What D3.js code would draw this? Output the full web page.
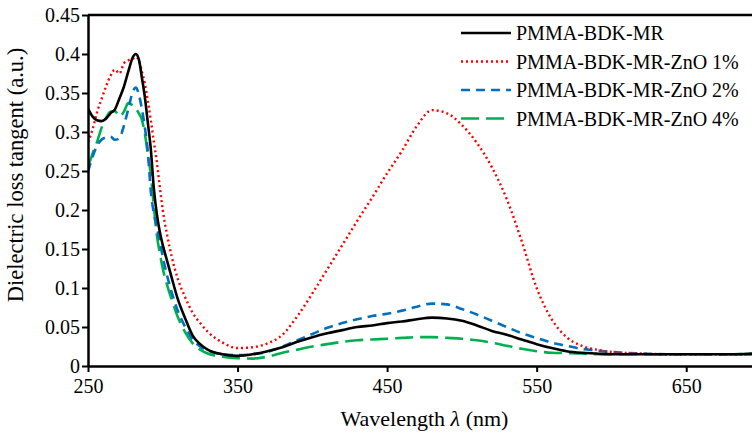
<!DOCTYPE html>
<html>
<head>
<meta charset="utf-8">
<script src="https://cdn.jsdelivr.net/npm/d3@7"></script>
<style>
  body { margin: 0; background: #fff; }
  text { font-family: "Liberation Serif", "Times New Roman", serif; fill: #000; }
</style>
</head>
<body>
<script>
// wavelength grid (nm)
var wavelength = [250,253,256,259,262,265,268,271,274,277,280,282,284,286,288,290,292,294,296,298,
                  300,303,306,310,315,320,325,330,340,350,360,370,380,390,400,410,420,430,440,450,
                  460,470,480,490,500,510,520,530,540,550,560,570,580,590,600,620,640,660,680,700];

var mr = [0.330,0.320,0.315,0.314,0.317,0.324,0.329,0.343,0.358,0.378,0.396,0.400,0.393,0.370,0.345,0.312,0.278,0.228,0.195,0.172,
          0.155,0.134,0.113,0.086,0.061,0.039,0.028,0.021,0.015,0.013,0.015,0.019,0.024,0.031,0.037,0.042,0.046,0.050,0.052,0.055,
          0.057,0.060,0.062,0.061,0.058,0.052,0.045,0.040,0.034,0.028,0.023,0.019,0.017,0.016,0.015,0.015,0.015,0.015,0.015,0.016];

var zno1 = [0.287,0.303,0.325,0.342,0.358,0.372,0.380,0.375,0.388,0.392,0.394,0.396,0.392,0.378,0.362,0.340,0.315,0.288,0.262,0.230,
            0.200,0.167,0.140,0.112,0.088,0.068,0.055,0.044,0.030,0.023,0.024,0.029,0.040,0.064,0.093,0.124,0.155,0.186,0.216,0.247,
            0.276,0.308,0.328,0.324,0.309,0.286,0.255,0.214,0.160,0.100,0.060,0.037,0.026,0.021,0.018,0.016,0.015,0.015,0.015,0.016];

var zno2 = [0.249,0.268,0.282,0.290,0.293,0.294,0.290,0.292,0.308,0.330,0.352,0.357,0.348,0.330,0.306,0.275,0.224,0.196,0.178,0.160,
            0.140,0.115,0.094,0.071,0.050,0.034,0.025,0.020,0.015,0.014,0.015,0.018,0.025,0.033,0.041,0.049,0.055,0.060,0.064,0.067,
            0.071,0.076,0.080,0.079,0.073,0.066,0.058,0.050,0.042,0.036,0.030,0.026,0.022,0.020,0.018,0.016,0.015,0.015,0.015,0.016];

var zno4 = [0.255,0.272,0.287,0.305,0.318,0.326,0.327,0.320,0.326,0.337,0.334,0.330,0.324,0.316,0.298,0.272,0.245,0.205,0.168,0.145,
            0.125,0.103,0.085,0.063,0.043,0.029,0.021,0.016,0.012,0.010,0.0095,0.012,0.017,0.021,0.025,0.028,0.031,0.033,0.034,0.035,
            0.036,0.037,0.037,0.036,0.035,0.033,0.030,0.026,0.022,0.019,0.017,0.0165,0.016,0.015,0.015,0.015,0.015,0.015,0.015,0.016];

var seriesNames = ["PMMA-BDK-MR", "PMMA-BDK-MR-ZnO 1%", "PMMA-BDK-MR-ZnO 2%", "PMMA-BDK-MR-ZnO 4%"];
var xTicks = [250, 350, 450, 550, 650];
var yTicks = [0, 0.05, 0.1, 0.15, 0.2, 0.25, 0.3, 0.35, 0.4, 0.45];

var w = 752;
var h = 436;
var m = {left: 88, right: 761, top: 15, bottom: 366};

var styles = [
  {color: "#000000", dash: null, width: 2.6},
  {color: "#ff0000", dash: "2,3", width: 2.4},
  {color: "#0070c0", dash: "9,6", width: 2.6},
  {color: "#00b050", dash: "18,7", width: 2.6}
];

var svg = d3.select("body")
  .append("svg")
  .attr("width", w)
  .attr("height", h);

var x = d3.scaleLinear().domain([250, 700]).range([m.left, m.right]);
var y = d3.scaleLinear().domain([0, 0.45]).range([m.bottom, m.top]);

svg.append("defs").append("clipPath").attr("id", "plot")
  .append("rect")
  .attr("x", m.left).attr("y", m.top - 2)
  .attr("width", m.right - m.left).attr("height", m.bottom - m.top + 2);

var all = [mr, zno1, zno2, zno4];

var line = d3.line()
  .x(function(d) { return x(d[0]); })
  .y(function(d) { return y(d[1]); })
  .curve(d3.curveMonotoneX);

// black drawn on top
[3, 2, 1, 0].forEach(function(i) {
  var pts = wavelength.map(function(wl, j) { return [wl, all[i][j]]; });
  svg.append("path")
    .datum(pts)
    .attr("clip-path", "url(#plot)")
    .attr("fill", "none")
    .attr("stroke", styles[i].color)
    .attr("stroke-width", styles[i].width)
    .attr("stroke-dasharray", styles[i].dash)
    .attr("d", line);
});

// frame top
svg.append("line")
  .attr("x1", m.left).attr("x2", m.right)
  .attr("y1", m.top).attr("y2", m.top)
  .attr("stroke", "#000").attr("stroke-width", 2.5);

var xAxis = svg.append("g")
  .attr("transform", "translate(0," + m.bottom + ")")
  .call(d3.axisBottom(x).tickValues(xTicks).tickSize(6).tickSizeOuter(0).tickPadding(7).tickFormat(d3.format("d")));

var yAxis = svg.append("g")
  .attr("transform", "translate(" + m.left + ",0)")
  .call(d3.axisLeft(y).tickValues(yTicks).tickSize(6).tickSizeOuter(0).tickPadding(2)
        .tickFormat(function(d) { return d === 0 ? "0" : String(+d.toFixed(2)); }));

[xAxis, yAxis].forEach(function(g) {
  g.attr("font-family", null).attr("font-size", null);
  g.select(".domain").attr("stroke", "#000").attr("stroke-width", 2.5);
  g.selectAll(".tick line").attr("stroke", "#000").attr("stroke-width", 2);
  g.selectAll(".tick text")
    .style("font-family", "'Liberation Serif', serif")
    .style("font-size", "20px")
    .attr("fill", "#000");
});

// axis titles
var xt = svg.append("text")
  .attr("x", (m.left + m.right) / 2)
  .attr("y", 426)
  .attr("text-anchor", "middle")
  .style("font-size", "22px");
xt.append("tspan").text("Wavelength ");
xt.append("tspan").style("font-style", "italic").text("λ");
xt.append("tspan").text(" (nm)");

svg.append("text")
  .attr("transform", "translate(23,175) rotate(-90)")
  .attr("text-anchor", "middle")
  .style("font-size", "22.5px")
  .text("Dielectric loss tangent (a.u.)");

// legend
var legend = svg.append("g");
seriesNames.forEach(function(name, i) {
  var ly = 33 + i * 28.5;
  legend.append("line")
    .attr("x1", 461).attr("x2", 511)
    .attr("y1", ly).attr("y2", ly)
    .attr("stroke", styles[i].color)
    .attr("stroke-width", styles[i].width)
    .attr("stroke-dasharray", styles[i].dash);
  legend.append("text")
    .attr("x", 516)
    .attr("y", ly + 7)
    .style("font-size", "20px")
    .text(name);
});
</script>
</body>
</html>
